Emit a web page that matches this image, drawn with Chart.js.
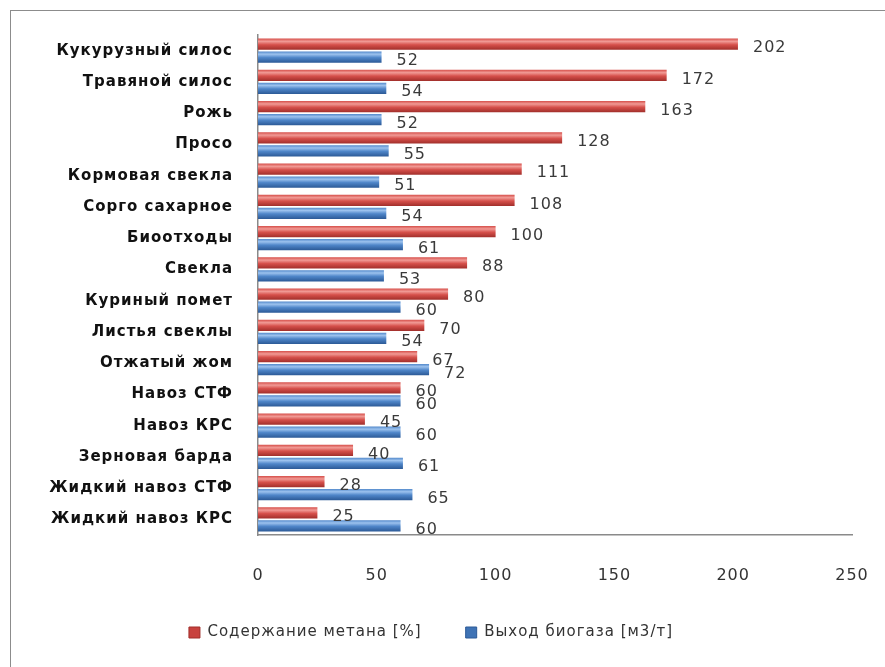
<!DOCTYPE html>
<html>
<head>
<meta charset="utf-8">
<script src="https://cdn.jsdelivr.net/npm/chart.js@4/dist/chart.umd.min.js"></script>
<style>
  html, body { margin: 0; padding: 0; background: #fff; overflow: hidden; }
  #wrap { position: relative; width: 885px; height: 667px; overflow: hidden; }
  #frame { position: absolute; left: 10px; top: 10px; width: 900px; height: 700px;
           border-top: 1px solid #8c8c8c; border-left: 1px solid #8c8c8c; }
  canvas { position: absolute; left: 0; top: 0; }
</style>
</head>
<body>
<div id="wrap">
  <div id="frame"></div>
  <canvas id="chart" width="885" height="667"></canvas>
</div>
<script>
// ===== Data =====
const categories = [
  'Кукурузный силос', 'Травяной силос', 'Рожь', 'Просо', 'Кормовая свекла',
  'Сорго сахарное', 'Биоотходы', 'Свекла', 'Куриный помет', 'Листья свеклы',
  'Отжатый жом', 'Навоз СТФ', 'Навоз КРС', 'Зерновая барда',
  'Жидкий навоз СТФ', 'Жидкий навоз КРС'
];
const methane = [202, 172, 163, 128, 111, 108, 100, 88, 80, 70, 67, 60, 45, 40, 28, 25];
const biogas  = [52, 54, 52, 55, 51, 54, 61, 53, 60, 54, 72, 60, 60, 61, 65, 60];
const seriesNames = ['Содержание метана [%]', 'Выход биогаза [м3/т]'];
const xTicks = [0, 50, 100, 150, 200, 250];

// ===== Styles =====
const FONT = '"DejaVu Sans", Verdana, sans-serif';
const CAT_PCT = 0.82, BAR_PCT = 0.88;
const palettes = [
  { light: '#f19a95', mid: '#d6504b', dark: '#a02e2a', solid: '#c8423e' },
  { light: '#9cc2ee', mid: '#4f86c9', dark: '#2c5a97', solid: '#3f73b5' }
];

function barGradient(ctx, d) {
  const chart = ctx.chart;
  const pal = palettes[d];
  const ys = chart.scales && chart.scales.y;
  if (!chart.chartArea || !ys || ctx.dataIndex === undefined) return pal.mid;
  const band = ys.height / categories.length;
  const full = band * CAT_PCT;
  const size = full / 2;
  const thick = size * BAR_PCT;
  const c = ys.getPixelForValue(ctx.dataIndex);
  const top = c - full / 2 + d * size + (size - thick) / 2;
  const g = chart.ctx.createLinearGradient(0, top, 0, top + thick);
  g.addColorStop(0, pal.mid);
  g.addColorStop(0.25, pal.light);
  g.addColorStop(0.55, pal.mid);
  g.addColorStop(1, pal.dark);
  return g;
}

// the source uses a wide, loosely spaced font
const spacing = {
  id: 'spacing',
  beforeLayout(chart) { chart.ctx.letterSpacing = '1px'; },
  beforeDraw(chart) { chart.ctx.letterSpacing = '1px'; }
};

// value labels at bar ends
const valueLabels = {
  id: 'valueLabels',
  afterDatasetsDraw(chart) {
    const ctx = chart.ctx;
    ctx.save();
    ctx.font = '16px ' + FONT;
    ctx.fillStyle = '#3a3a3a';
    ctx.textAlign = 'left';
    ctx.textBaseline = 'middle';
    chart.data.datasets.forEach((ds, d) => {
      const meta = chart.getDatasetMeta(d);
      meta.data.forEach((el, i) => {
        ctx.fillText(String(ds.data[i]), el.x + 15, el.y + 4);
      });
    });
    ctx.restore();
  }
};

const canvas = document.getElementById('chart');
new Chart(canvas.getContext('2d'), {
  type: 'bar',
  data: {
    labels: categories,
    datasets: [
      { label: seriesNames[0], data: methane, backgroundColor: c => barGradient(c, 0),
        categoryPercentage: CAT_PCT, barPercentage: BAR_PCT, borderWidth: 0 },
      { label: seriesNames[1], data: biogas, backgroundColor: c => barGradient(c, 1),
        categoryPercentage: CAT_PCT, barPercentage: BAR_PCT, borderWidth: 0 }
    ]
  },
  options: {
    indexAxis: 'y',
    responsive: false,
    animation: false,
    layout: { padding: { left: 10, right: 33, top: 35, bottom: 17 } },
    plugins: {
      tooltip: { enabled: false },
      legend: {
        position: 'bottom',
        labels: {
          boxWidth: 11, boxHeight: 11, padding: 44,
          color: '#333',
          font: { family: FONT, size: 15 },
          generateLabels(chart) {
            return chart.data.datasets.map((ds, i) => ({
              text: ds.label, fillStyle: palettes[i].solid, strokeStyle: palettes[i].dark,
              lineWidth: 1, hidden: false, datasetIndex: i, fontColor: '#333'
            }));
          }
        }
      }
    },
    scales: {
      x: {
        min: 0, max: 250,
        afterBuildTicks: s => { s.ticks = xTicks.map(v => ({ value: v })); },
        afterFit: s => { s.height = 46; },
        grid: { display: false, drawTicks: true, tickLength: 29, tickColor: 'rgba(0,0,0,0)' },
        border: { display: true, color: '#8a8a8a', width: 1.5 },
        ticks: { padding: 2, color: '#333', font: { family: FONT, size: 16 } }
      },
      y: {
        afterFit: s => { s.width = 248; },
        grid: { display: false, drawTicks: false },
        border: { display: true, color: '#8a8a8a', width: 1.5 },
        ticks: { padding: 25, color: '#111', font: { family: FONT, size: 15, weight: 'bold' } }
      }
    }
  },
  plugins: [spacing, valueLabels]
});
</script>
</body>
</html>
